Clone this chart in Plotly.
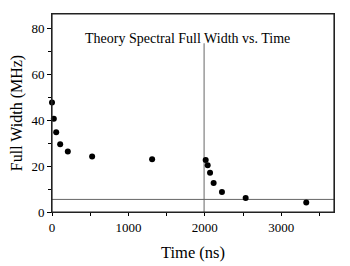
import plotly.graph_objects as go

time_ns = [0, 24, 55, 107, 207, 525, 1310, 2011, 2037, 2068, 2115, 2224, 2534, 3327]
full_width = [47.8, 40.7, 34.8, 29.6, 26.4, 24.2, 23.0, 22.7, 20.4, 17.2, 12.7, 8.7, 6.1, 4.1]

vline_x = [1990, 1990]
vline_y = [0, 73.7]
hline_x = [0, 3690]
hline_y = [5.5, 5.5]

x_range = [0, 3690]
y_range = [0, 86.5]

font = "Liberation Serif"

fig = go.Figure()
fig.add_trace(go.Scatter(x=hline_x, y=hline_y, mode="lines",
                         line=dict(color="#666666", width=1), showlegend=False, hoverinfo="skip"))
fig.add_trace(go.Scatter(x=vline_x, y=vline_y, mode="lines",
                         line=dict(color="#666666", width=1), showlegend=False, hoverinfo="skip"))
fig.add_trace(go.Scatter(x=time_ns, y=full_width, mode="markers",
                         marker=dict(color="black", size=6), showlegend=False, cliponaxis=False))

# page body has an 8px default margin, so the figure is shrunk and shifted to compensate
fig.update_layout(
    width=342, height=258,
    margin=dict(l=44, r=16, t=6, b=54),
    paper_bgcolor="white", plot_bgcolor="white",
    font=dict(family=font, size=13, color="black"),
    annotations=[dict(text="Theory Spectral Full Width vs. Time", x=0.48, y=0.924,
                      xref="paper", yref="paper", showarrow=False,
                      font=dict(family=font, size=14, color="black"))],
    shapes=[dict(type="rect", xref="paper", yref="paper", x0=0, x1=1, y0=0, y1=1,
                 line=dict(color="#222222", width=1.2), layer="above")],
)
fig.update_xaxes(range=x_range, tickmode="linear", tick0=0, dtick=1000, automargin=False,
                 ticks="outside", ticklen=3, tickcolor="black", showgrid=False, zeroline=False,
                 showline=True, linecolor="#222222", linewidth=1, mirror=True,
                 minor=dict(dtick=500, ticks="outside", ticklen=3, tickcolor="black", showgrid=False),
                 title=dict(text="Time (ns)", font=dict(family=font, size=16.5), standoff=12),
                 tickfont=dict(family=font, size=13))
fig.update_yaxes(range=y_range, tickmode="linear", tick0=0, dtick=20, automargin=False,
                 ticks="outside", ticklen=4, tickcolor="black", showgrid=False, zeroline=False,
                 showline=True, linecolor="#222222", linewidth=1, mirror=True,
                 minor=dict(dtick=10, ticks="outside", ticklen=3, tickcolor="black", showgrid=False),
                 title=dict(text="Full Width (MHz)", font=dict(family=font, size=16), standoff=10),
                 tickfont=dict(family=font, size=13))

fig.write_html("out.html")
